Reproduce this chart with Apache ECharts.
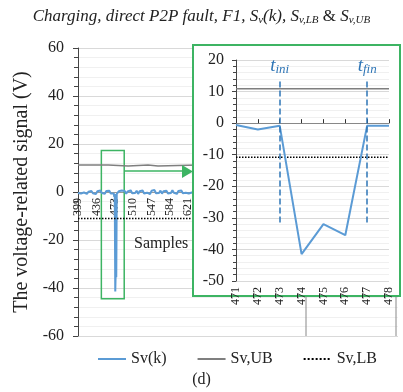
<!DOCTYPE html>
<html>
<head>
<meta charset="utf-8">
<script src="https://cdn.jsdelivr.net/npm/echarts@6/dist/echarts.min.js"></script>
<style>html,body{margin:0;padding:0;background:#fff}#c{width:403px;height:392px}</style>
</head>
<body>
<div id="c"></div>
<script>
var dom = document.getElementById("c");
var myChart = echarts.init(dom);
var serif = 'Liberation Serif';

// main view, samples 399..640 (noise before and after the fault)
var noiseBefore = [[399,-0.4],[402,0.3],[405,-0.6],[408,0.2],[411,-0.2],[414,0.5],[417,-0.8],[420,0.1],
  [423,-0.3],[426,0.4],[429,-0.5],[432,0.2],[435,-0.9],[438,0.3],[441,-0.1],[444,0.6],[447,-0.4],
  [450,0.1],[453,-0.7],[456,0.4],[459,-0.2],[462,0.5],[465,-0.6],[468,0.2]];
var noiseAfter = [[481,0.3],[484,-0.5],[487,0.6],[490,-0.2],[493,0.4],[496,-0.7],[499,0.2],[502,-0.3],
  [505,0.7],[508,-0.5],[511,0.1],[514,-0.4],[517,0.5],[520,-0.8],[523,0.3],[526,-0.1],[529,0.6],
  [532,-0.6],[535,0.2],[538,-0.3],[541,0.4],[544,-0.9],[547,0.5],[550,-0.2],[553,0.8],[556,-0.5],
  [559,0.1],[562,-0.4],[565,0.6],[568,-0.7],[571,0.3],[574,-0.2],[577,0.5],[580,-0.6],[583,0.2],
  [586,-0.4],[589,0.7],[592,-0.3],[595,0.1],[598,-0.8],[601,0.4],[604,-0.1],[607,0.6],[610,-0.5],
  [613,0.3],[616,-0.3],[619,0.5],[622,-0.6],[625,0.2],[628,-0.2],[631,0.4],[634,-0.5],[637,0.3],[640,-0.2]];
var ubMain = [[399,11.2],[460,11.2],[464,10.8],[500,10.8],[504,11.2],[540,11.2],[543,10.8],[560,10.8],[563,11.2],[640,11.2]];
var lbMain = [[399,-11],[640,-11]];
var mainTicks = [399,436,473,510,547,584,621,658,695,732,769,806,843,880,917,954,991,1028];

// zoomed view, samples 471..478
var insetCats = ['471','472','473','474','475','476','477','478'];
var insetSv = [-0.6,-2.0,-0.8,-41.5,-32,-35.5,-0.8,-0.8];
var insetUB = [10.9,10.9,10.9,10.9,10.9,10.9,10.9,10.9];
var insetLB = [-10.8,-10.8,-10.8,-10.8,-10.8,-10.8,-10.8,-10.8];
var tIni = '473', tFin = '477';

var svMain = noiseBefore.concat(insetSv.map(function (v, i) {
    return [Number(insetCats[i]), v];
})).concat(noiseAfter);

var green = '#3DB463';
var blue = '#5B9BD5';

option = {
    animation: false,
    title: {
        left: 'center',
        top: 2,
        text: '{i|Charging, direct P2P fault, F1, S}{s|v}{i|(k), S}{s|v,LB}{n| & }{i|S}{s|v,UB}',
        textStyle: {
            rich: {
                i: {fontSize: 17, fontStyle: 'italic', fontWeight: 'normal', fontFamily: serif, color: '#222'},
                n: {fontSize: 17, fontWeight: 'normal', fontFamily: serif, color: '#222'},
                s: {fontSize: 11, fontStyle: 'italic', fontWeight: 'normal', fontFamily: serif, color: '#222', padding: [8, 0, 0, 0]}
            }
        }
    },
    legend: {
        top: 346,
        left: 92,
        itemGap: 30,
        itemWidth: 28,
        itemHeight: 12,
        itemStyle: {opacity: 0},
        data: ['Sv(k)', 'Sv,UB', 'Sv,LB'],
        textStyle: {fontSize: 16, fontFamily: serif, color: '#222'}
    },
    grid: [
        {left: 78, right: 5, top: 48, bottom: 56},
        {left: 236, right: 14, top: 60, bottom: 111, zlevel: 1}
    ],
    xAxis: [{
        type: 'value',
        gridIndex: 0,
        position: 'bottom',
        offset: -144,
        min: 399,
        max: 1043,
        axisLine: {onZero: false, lineStyle: {color: '#999'}},
        axisTick: {show: false},
        splitLine: {show: false},
        axisLabel: {
            customValues: mainTicks, rotate: 90, fontSize: 12, fontFamily: serif, color: '#222', margin: 6,
            formatter: function (v) { return String(v); }
        }
    }, {
        type: 'category',
        gridIndex: 1,
        zlevel: 1,
        z: 5,
        data: insetCats,
        boundaryGap: false,
        axisLine: {onZero: true, lineStyle: {color: '#888'}},
        axisTick: {show: true, inside: true, length: 4, lineStyle: {color: '#333'}},
        splitLine: {show: false},
        axisLabel: {rotate: 90, fontSize: 12, fontFamily: serif, color: '#222', margin: 6}
    }],
    yAxis: [{
        type: 'value',
        gridIndex: 0,
        min: -60,
        max: 60,
        interval: 20,
        axisLine: {show: true, onZero: false, lineStyle: {color: '#444'}},
        axisTick: {show: true, length: 5, lineStyle: {color: '#444'}},
        minorTick: {show: true, splitNumber: 5, length: 4, lineStyle: {color: '#444'}},
        splitLine: {lineStyle: {color: '#d9d9d9'}},
        minorSplitLine: {show: true, lineStyle: {color: '#f0f0f0'}},
        axisLabel: {fontSize: 16, fontFamily: serif, color: '#222', margin: 14},
        name: 'The voltage-related signal (V)',
        nameLocation: 'middle',
        nameGap: 39,
        nameTextStyle: {fontSize: 20, fontFamily: serif, color: '#222'}
    }, {
        type: 'value',
        gridIndex: 1,
        zlevel: 1,
        z: 5,
        min: -50,
        max: 20,
        interval: 10,
        axisLine: {show: true, onZero: false, lineStyle: {color: '#444'}},
        axisTick: {show: true, length: 4, lineStyle: {color: '#444'}},
        minorTick: {show: true, splitNumber: 5, length: 3, lineStyle: {color: '#444'}},
        splitLine: {lineStyle: {color: '#d9d9d9'}},
        minorSplitLine: {show: true, lineStyle: {color: '#f0f0f0'}},
        axisLabel: {fontSize: 16, fontFamily: serif, color: '#222', margin: 12}
    }],
    series: [{
        name: 'Sv(k)',
        type: 'line',
        xAxisIndex: 0, yAxisIndex: 0,
        symbol: 'none',
        data: svMain,
        lineStyle: {color: blue, width: 2},
        itemStyle: {color: blue},
        markArea: {
            silent: true,
            itemStyle: {color: 'rgba(0,0,0,0)', borderColor: green, borderWidth: 1.5},
            data: [[{coord: [446, 17.3]}, {coord: [492, -44.5]}]]
        }
    }, {
        name: 'Sv,UB',
        type: 'line',
        xAxisIndex: 0, yAxisIndex: 0,
        symbol: 'none',
        data: ubMain,
        lineStyle: {color: '#7f7f7f', width: 1.5},
        itemStyle: {color: '#7f7f7f'}
    }, {
        name: 'Sv,LB',
        type: 'line',
        xAxisIndex: 0, yAxisIndex: 0,
        symbol: 'none',
        data: lbMain,
        lineStyle: {color: '#000', width: 1.5, type: 'dotted'},
        itemStyle: {color: '#000'}
    }, {
        name: 'Sv,UB',
        type: 'line',
        xAxisIndex: 1, yAxisIndex: 1,
        zlevel: 1, z: 10,
        symbol: 'none',
        data: insetUB,
        lineStyle: {color: '#7f7f7f', width: 1.5}
    }, {
        name: 'Sv,LB',
        type: 'line',
        xAxisIndex: 1, yAxisIndex: 1,
        zlevel: 1, z: 10,
        symbol: 'none',
        data: insetLB,
        lineStyle: {color: '#000', width: 1.5, type: 'dotted'}
    }, {
        name: 'Sv(k)',
        type: 'line',
        xAxisIndex: 1, yAxisIndex: 1,
        zlevel: 1, z: 10,
        symbol: 'none',
        data: insetSv,
        lineStyle: {color: blue, width: 2},
        markLine: {
            silent: true,
            zlevel: 1,
            z: 12,
            symbol: 'none',
            lineStyle: {color: '#2E75B6', type: 'dashed', width: 1.5},
            label: {
                show: true,
                position: 'end',
                distance: 3,
                formatter: function (p) { return '{t|t}{s|' + p.name + '}'; },
                rich: {
                    t: {fontSize: 19, fontStyle: 'italic', fontFamily: serif, color: '#2E75B6'},
                    s: {fontSize: 13, fontStyle: 'italic', fontFamily: serif, color: '#2E75B6', padding: [7, 0, 0, 0]}
                }
            },
            data: [
                [{name: 'ini', coord: [tIni, -31.5]}, {coord: [tIni, 14]}],
                [{name: 'fin', coord: [tFin, -31.5]}, {coord: [tFin, 14]}]
            ]
        }
    }],
    graphic: [
        {type: 'rect', zlevel: 1, z: 1, shape: {x: 193, y: 45, width: 207, height: 251},
            style: {fill: '#fff', stroke: green, lineWidth: 2}},
        {type: 'line', z: 100, shape: {x1: 124, y1: 171, x2: 184, y2: 171},
            style: {stroke: green, lineWidth: 1.5}},
        {type: 'polygon', z: 100, shape: {points: [[182, 165], [193, 171.5], [182, 178]]},
            style: {fill: green}},
        {type: 'line', z: 100, shape: {x1: 306, y1: 297, x2: 306, y2: 336},
            style: {stroke: '#888', lineWidth: 1}},
        {type: 'line', z: 100, shape: {x1: 396, y1: 297, x2: 396, y2: 336},
            style: {stroke: '#888', lineWidth: 1}},
        {type: 'text', left: 134, top: 236, z: 100,
            style: {text: 'Samples', font: '16px "Liberation Serif"', fill: '#222'}},
        {type: 'text', left: 'center', top: 372, z: 100,
            style: {text: '(d)', font: '16px "Liberation Serif"', fill: '#222'}}
    ]
};
if (option && typeof option === "object") {
    myChart.setOption(option, true);
}
</script>
</body>
</html>
